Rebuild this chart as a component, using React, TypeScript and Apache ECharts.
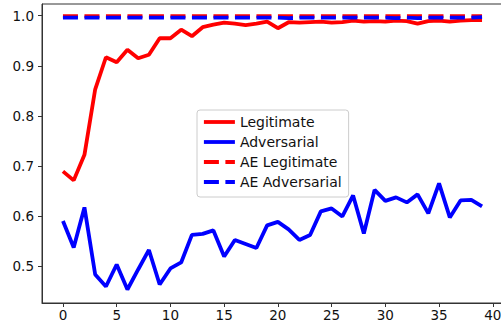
import React, { useEffect, useRef } from "react";
import * as echarts from "echarts";

const epochs: number[] = Array.from({ length: 40 }, (_, i) => i);

const legitimate: number[] = [
  0.689, 0.671, 0.722, 0.853, 0.917, 0.907, 0.932, 0.915, 0.922, 0.955,
  0.955, 0.972, 0.959, 0.977, 0.982, 0.986, 0.984, 0.981, 0.984, 0.988,
  0.975, 0.987, 0.986, 0.987, 0.988, 0.986, 0.987, 0.99, 0.988, 0.989,
  0.988, 0.99, 0.989, 0.984, 0.989, 0.99, 0.988, 0.99, 0.991, 0.991,
];

const adversarial: number[] = [
  0.59, 0.537, 0.617, 0.483, 0.459, 0.503, 0.453, 0.493, 0.532, 0.463,
  0.495, 0.507, 0.562, 0.564, 0.571, 0.519, 0.552, 0.544, 0.536, 0.581,
  0.588, 0.573, 0.552, 0.562, 0.609, 0.615, 0.599, 0.641, 0.565, 0.652,
  0.63, 0.637, 0.627, 0.643, 0.605, 0.665, 0.597, 0.631, 0.632, 0.619,
];

const aeLegitimate: number[] = [
  0.999, 0.999, 0.999, 0.999, 0.999, 0.999, 0.999, 0.999, 0.999, 0.999,
  0.999, 0.999, 0.999, 0.999, 0.999, 0.999, 0.999, 0.999, 0.999, 0.999,
  0.999, 0.999, 0.999, 0.999, 0.999, 0.999, 0.999, 0.999, 0.999, 0.999,
  0.999, 0.999, 0.999, 0.999, 0.999, 0.999, 0.999, 0.999, 0.999, 0.999,
];

const aeAdversarial: number[] = [
  0.996, 0.996, 0.996, 0.996, 0.996, 0.996, 0.996, 0.996, 0.996, 0.996,
  0.996, 0.996, 0.996, 0.996, 0.996, 0.996, 0.996, 0.996, 0.996, 0.996,
  0.996, 0.995, 0.996, 0.996, 0.996, 0.996, 0.996, 0.996, 0.996, 0.996,
  0.996, 0.995, 0.996, 0.995, 0.996, 0.996, 0.996, 0.996, 0.996, 0.997,
];

const xTicks: number[] = [0, 5, 10, 15, 20, 25, 30, 35, 40];
const yTicks: number[] = [0.5, 0.6, 0.7, 0.8, 0.9, 1.0];

const FONT = "DejaVu Sans";
const FS = 13.5;

export default function App() {
  const ref = useRef<HTMLDivElement>(null);

  useEffect(() => {
    if (!ref.current) return;
    const chart = echarts.init(ref.current, null, { renderer: "svg" });
    const pairs = (arr: number[]) => arr.map((v, i) => [epochs[i], v]);
    const dash = [15, 6.5];
    const LW = 3.8;
    chart.setOption({
      animation: false,
      backgroundColor: "#ffffff",
      grid: {
        left: 42,
        top: 4,
        right: 2,
        bottom: 27,
        show: true,
        borderColor: "#333333",
        borderWidth: 1,
        containLabel: false,
        outerBoundsMode: "none",
      },
      xAxis: {
        type: "value",
        min: -1.95,
        max: 40.95,
        splitLine: { show: false },
        axisLine: { show: true, onZero: false, lineStyle: { color: "#333333", width: 1 } },
        axisTick: {
          show: true,
          length: 4,
          lineStyle: { color: "#333333" },
          customValues: xTicks,
        },
        axisLabel: {
          show: true,
          margin: 5,
          color: "#111111",
          fontSize: FS,
          fontFamily: FONT,
          customValues: xTicks,
          formatter: (v: number) => String(v),
        },
      },
      yAxis: {
        type: "value",
        min: 0.426,
        max: 1.0234,
        splitLine: { show: false },
        axisLine: { show: true, onZero: false, lineStyle: { color: "#333333", width: 1 } },
        axisTick: {
          show: true,
          length: 4,
          lineStyle: { color: "#333333" },
          customValues: yTicks,
        },
        axisLabel: {
          show: true,
          margin: 8,
          color: "#111111",
          fontSize: FS,
          fontFamily: FONT,
          customValues: yTicks,
          formatter: (v: number) => v.toFixed(1),
        },
      },
      legend: {
        orient: "vertical",
        left: 197,
        top: 110,
        padding: [5, 7, 8, 5],
        itemGap: 6,
        itemWidth: 31,
        itemHeight: 14,
        itemTextGap: 9,
        backgroundColor: "rgba(255,255,255,0.8)",
        borderColor: "#cccccc",
        borderWidth: 1,
        borderRadius: 3,
        itemStyle: { opacity: 0 },
        textStyle: { fontSize: 14, fontFamily: FONT, color: "#111111", lineHeight: 14 },
        data: [
          { name: "Legitimate", lineStyle: { type: "solid", width: LW } },
          { name: "Adversarial", lineStyle: { type: "solid", width: LW } },
          { name: "AE Legitimate", lineStyle: { type: dash, width: LW } },
          { name: "AE Adversarial", lineStyle: { type: dash, width: LW } },
        ],
      },
      series: [
        {
          name: "Legitimate",
          type: "line",
          data: pairs(legitimate),
          symbol: "none",
          showSymbol: false,
          color: "#ff0000",
          lineStyle: { color: "#ff0000", width: LW },
        },
        {
          name: "Adversarial",
          type: "line",
          data: pairs(adversarial),
          symbol: "none",
          showSymbol: false,
          color: "#0000ff",
          lineStyle: { color: "#0000ff", width: LW },
        },
        {
          name: "AE Legitimate",
          type: "line",
          data: pairs(aeLegitimate),
          symbol: "none",
          showSymbol: false,
          color: "#ff0000",
          lineStyle: { color: "#ff0000", width: LW, type: dash, cap: "butt" },
        },
        {
          name: "AE Adversarial",
          type: "line",
          data: pairs(aeAdversarial),
          symbol: "none",
          showSymbol: false,
          color: "#0000ff",
          lineStyle: { color: "#0000ff", width: LW, type: dash, cap: "butt" },
        },
      ],
    });
    return () => chart.dispose();
  }, []);

  return (
    <div
      style={{
        position: "fixed",
        left: 0,
        top: 0,
        width: 501,
        height: 330,
        overflow: "hidden",
        background: "#ffffff",
      }}
    >
      <div ref={ref} style={{ width: 505, height: 330 }} />
    </div>
  );
}
